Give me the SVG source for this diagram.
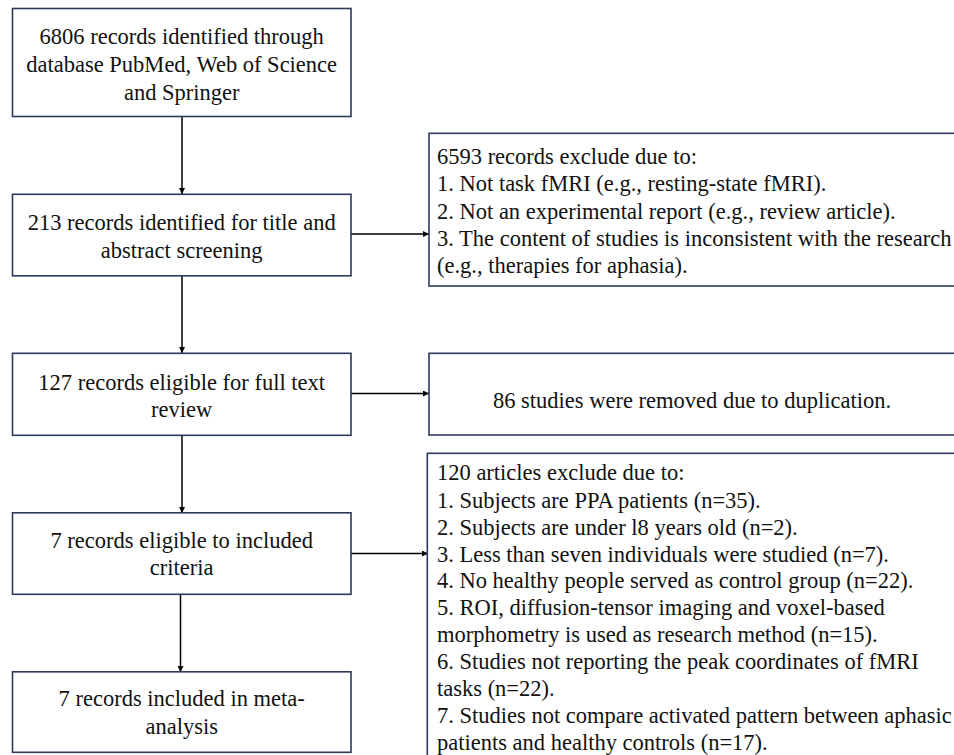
<svg xmlns="http://www.w3.org/2000/svg" width="954" height="755" viewBox="0 0 954 755">
<defs>
<marker id="ah" viewBox="0 0 10 10" refX="10" refY="5" markerWidth="6" markerHeight="6" markerUnits="userSpaceOnUse" orient="auto">
<path d="M0,0 L10,5 L0,10 z" fill="#000"/>
</marker>
</defs>
<rect width="954" height="755" fill="#fff"/>
<g id="connectors" stroke="#000" stroke-width="1.5" fill="none" marker-end="url(#ah)">
<line x1="182" y1="117" x2="182" y2="194"/>
<line x1="351" y1="234" x2="429" y2="234"/>
<line x1="182" y1="276" x2="182" y2="353"/>
<line x1="351" y1="393.5" x2="429" y2="393.5"/>
<line x1="182" y1="435" x2="182" y2="513"/>
<line x1="351" y1="553.5" x2="428" y2="553.5"/>
<line x1="180.5" y1="594" x2="180.5" y2="672"/>
</g>
<g font-family="Liberation Serif" font-size="22.5" fill="#111">
<g id="n1" text-anchor="middle">
<rect x="12.5" y="8.5" width="338.5" height="108" fill="#fff" stroke="#2e3a5c" stroke-width="1.6"/>
<text x="181.7" y="44">6806 records identified through</text>
<text x="181.7" y="72">database PubMed, Web of Science</text>
<text x="181.7" y="99.5">and Springer</text>
</g>
<g id="n2" text-anchor="middle">
<rect x="12.5" y="194.3" width="338.5" height="81.5" fill="#fff" stroke="#2e3a5c" stroke-width="1.6"/>
<text x="181.7" y="230">213 records identified for title and</text>
<text x="181.7" y="257.5">abstract screening</text>
</g>
<g id="n3" text-anchor="middle">
<rect x="12.5" y="353.3" width="338.5" height="82" fill="#fff" stroke="#2e3a5c" stroke-width="1.6"/>
<text x="181.7" y="390">127 records eligible  for full text</text>
<text x="181.7" y="417">review</text>
</g>
<g id="n4" text-anchor="middle">
<rect x="12.5" y="512.8" width="338.5" height="81.5" fill="#fff" stroke="#2e3a5c" stroke-width="1.6"/>
<text x="181.7" y="547.5">7 records eligible  to included</text>
<text x="181.7" y="575">criteria</text>
</g>
<g id="n5" text-anchor="middle">
<rect x="12.5" y="671.8" width="338.5" height="80.5" fill="#fff" stroke="#2e3a5c" stroke-width="1.6"/>
<text x="181.7" y="706">7 records included in meta-</text>
<text x="181.7" y="734">analysis</text>
</g>
<g id="r1">
<rect x="429" y="133.3" width="540" height="152.7" fill="#fff" stroke="#2e3a5c" stroke-width="1.6"/>
<text x="437" y="164">6593 records exclude due to:</text>
<text x="437" y="191">1. Not task fMRI (e.g., resting-state fMRI).</text>
<text x="437" y="218.5">2. Not an experimental report (e.g., review article).</text>
<text x="437" y="246">3. The content of studies is inconsistent with the research</text>
<text x="437" y="273">(e.g., therapies for aphasia).</text>
</g>
<g id="r2">
<rect x="429" y="353.3" width="540" height="81.7" fill="#fff" stroke="#2e3a5c" stroke-width="1.6"/>
<text x="692" y="408" text-anchor="middle">86 studies were removed due to duplication.</text>
</g>
<g id="r3">
<rect x="427.3" y="453.3" width="540" height="320" fill="#fff" stroke="#2e3a5c" stroke-width="1.6"/>
<text x="437" y="480">120 articles exclude due to:</text>
<text x="437" y="507.5">1. Subjects are PPA patients (n=35).</text>
<text x="437" y="534.5">2. Subjects are under l8 years old  (n=2).</text>
<text x="437" y="561.5">3. Less than seven individuals  were studied (n=7).</text>
<text x="437" y="588">4. No healthy people served as control group (n=22).</text>
<text x="437" y="615">5. ROI, diffusion-tensor  imaging  and voxel-based</text>
<text x="437" y="642">morphometry is used as research method (n=15).</text>
<text x="437" y="669">6. Studies  not reporting the peak coordinates of fMRI</text>
<text x="437" y="696">tasks (n=22).</text>
<text x="437" y="723">7. Studies  not compare activated pattern between aphasic</text>
<text x="437" y="750">patients and healthy controls (n=17).</text>
</g>
</g>
</svg>
